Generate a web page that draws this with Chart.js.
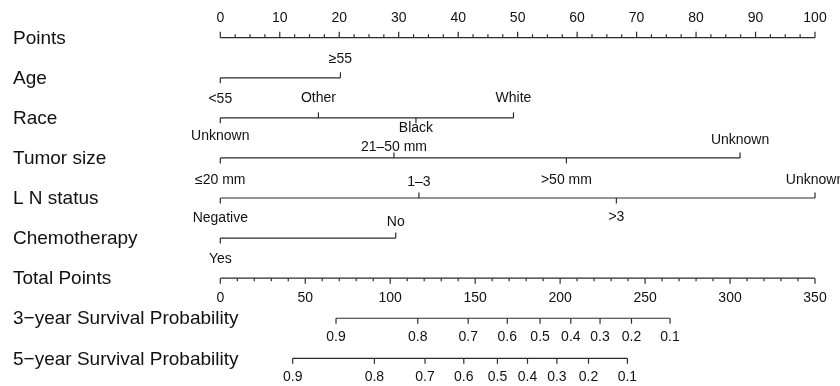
<!DOCTYPE html>
<html>
<head>
<meta charset="utf-8">
<script src="https://cdn.jsdelivr.net/npm/chart.js@4.4.0/dist/chart.umd.min.js"></script>
<style>
html,body{margin:0;padding:0;background:#fff;}
#wrap{width:840px;height:386px;}
</style>
</head>
<body>
<div id="wrap"><canvas id="c" width="840" height="386"></canvas></div>
<script>
// ---- data ----
const rowNames = ['Points','Age','Race','Tumor size','L N status','Chemotherapy','Total Points','3\u2212year Survival Probability','5\u2212year Survival Probability'];
const pointTicks = [0,10,20,30,40,50,60,70,80,90,100];
const ageLevels = ['<55','\u226555'];
const agePoints = [0, 20.2];
const raceLevels = ['Unknown','Other','Black','White'];
const racePoints = [0, 16.5, 32.9, 49.3];
const tumorLevels = ['\u226420 mm','21\u201350 mm','>50 mm','Unknown'];
const tumorPoints = [0, 29.2, 58.2, 87.4];
const lnLevels = ['Negative','1\u20133','>3','Unknown'];
const lnPoints = [0, 33.4, 66.6, 100];
const chemoLevels = ['Yes','No'];
const chemoPoints = [0, 29.5];
const totalTicks = [0,50,100,150,200,250,300,350];
const survLabels = ['0.9','0.8','0.7','0.6','0.5','0.4','0.3','0.2','0.1'];
const surv3Total = [68.1,116.2,145.9,168.9,188.2,206.3,223.5,242.0,264.7];
const surv5Total = [42.6,90.7,120.5,143.3,163.1,180.8,198.1,216.7,239.6];

// ---- layout (label offsets in px relative to the row line; sign gives tick side) ----
const factorRows = [
  {row:1, levels:ageLevels,   pts:agePoints,   dy:[21,-19]},
  {row:2, levels:raceLevels,  pts:racePoints,  dy:[18,-20,10,-20]},
  {row:3, levels:tumorLevels, pts:tumorPoints, dy:[22,-11,22,-18]},
  {row:4, levels:lnLevels,    pts:lnPoints,    dy:[20,-16,19,-18]},
  {row:5, levels:chemoLevels, pts:chemoPoints, dy:[21.5,-16]}
];
const LINE = '#2b2b2b';
const TEXT = '#111';
const TICKFONT = '14px "Liberation Sans", Arial, sans-serif';
const NAMEFONT = '19px "Liberation Sans", Arial, sans-serif';

function seg(a,b,row){return [{x:a,y:row},{x:b,y:row}];}
const datasets = [];
datasets.push({data:seg(0,100,0), xAxisID:'x'});
factorRows.forEach(f=>{
  datasets.push({data:seg(Math.min(...f.pts),Math.max(...f.pts),f.row), xAxisID:'x'});
});
datasets.push({data:seg(0,350,6), xAxisID:'xt'});
datasets.push({data:seg(Math.min(...surv3Total),Math.max(...surv3Total),7), xAxisID:'xt'});
datasets.push({data:seg(Math.min(...surv5Total),Math.max(...surv5Total),8), xAxisID:'xt'});
datasets.forEach(d=>{Object.assign(d,{borderColor:LINE,borderWidth:1.2,pointRadius:0,showLine:true,clip:false,fill:false,tension:0});});

const nomoPlugin = {
  id:'nomo',
  afterDatasetsDraw(chart){
    const ctx = chart.ctx, x = chart.scales.x, xt = chart.scales.xt, y = chart.scales.y;
    ctx.save();
    ctx.strokeStyle = LINE; ctx.lineWidth = 1.2; ctx.fillStyle = TEXT;
    function tick(px,py,len){ctx.beginPath();ctx.moveTo(px,py);ctx.lineTo(px,py+len);ctx.stroke();}
    function text(s,px,py,font){ctx.font=font;ctx.textAlign='center';ctx.textBaseline='middle';ctx.fillText(s,px,py);}
    // row names
    rowNames.forEach((n,i)=>{ctx.font=NAMEFONT;ctx.textAlign='left';ctx.textBaseline='middle';ctx.fillText(n,13,y.getPixelForValue(i)+1);});
    // Points axis
    const y0 = y.getPixelForValue(0);
    for(let v=0; v<=100; v+=2.5){
      const major = pointTicks.includes(v);
      tick(x.getPixelForValue(v), y0, major?-6:-3.5);
    }
    pointTicks.forEach(v=>text(String(v), x.getPixelForValue(v), y0-19.5, TICKFONT));
    // factor rows
    factorRows.forEach(f=>{
      const py = y.getPixelForValue(f.row);
      f.levels.forEach((lab,i)=>{
        const px = x.getPixelForValue(f.pts[i]);
        tick(px, py, f.dy[i]>0?5.5:-5.5);
        text(lab, px, py+f.dy[i], TICKFONT);
      });
    });
    // Total points
    const y6 = y.getPixelForValue(6);
    for(let v=0; v<=350; v+=10){
      const major = totalTicks.includes(v);
      tick(xt.getPixelForValue(v), y6, major?5.5:3);
    }
    totalTicks.forEach(v=>text(String(v), xt.getPixelForValue(v), y6+19.5, TICKFONT));
    // survival rows
    [[surv3Total,7],[surv5Total,8]].forEach(([arr,row])=>{
      const py = y.getPixelForValue(row);
      arr.forEach((v,i)=>{
        const px = xt.getPixelForValue(v);
        tick(px, py, 5.5);
        text(survLabels[i], px, py+19, TICKFONT);
      });
    });
    ctx.restore();
  }
};

new Chart(document.getElementById('c'), {
  type:'line',
  data:{datasets},
  options:{
    responsive:false,
    animation:false,
    events:[],
    layout:{padding:{left:220.3, right:25, top:37.7, bottom:27.7}},
    plugins:{legend:{display:false}, tooltip:{enabled:false}},
    scales:{
      x:{type:'linear', min:0, max:100, display:false},
      xt:{type:'linear', min:0, max:350, display:false},
      y:{type:'linear', min:0, max:8, reverse:true, display:false}
    }
  },
  plugins:[nomoPlugin]
});
</script>
</body>
</html>
